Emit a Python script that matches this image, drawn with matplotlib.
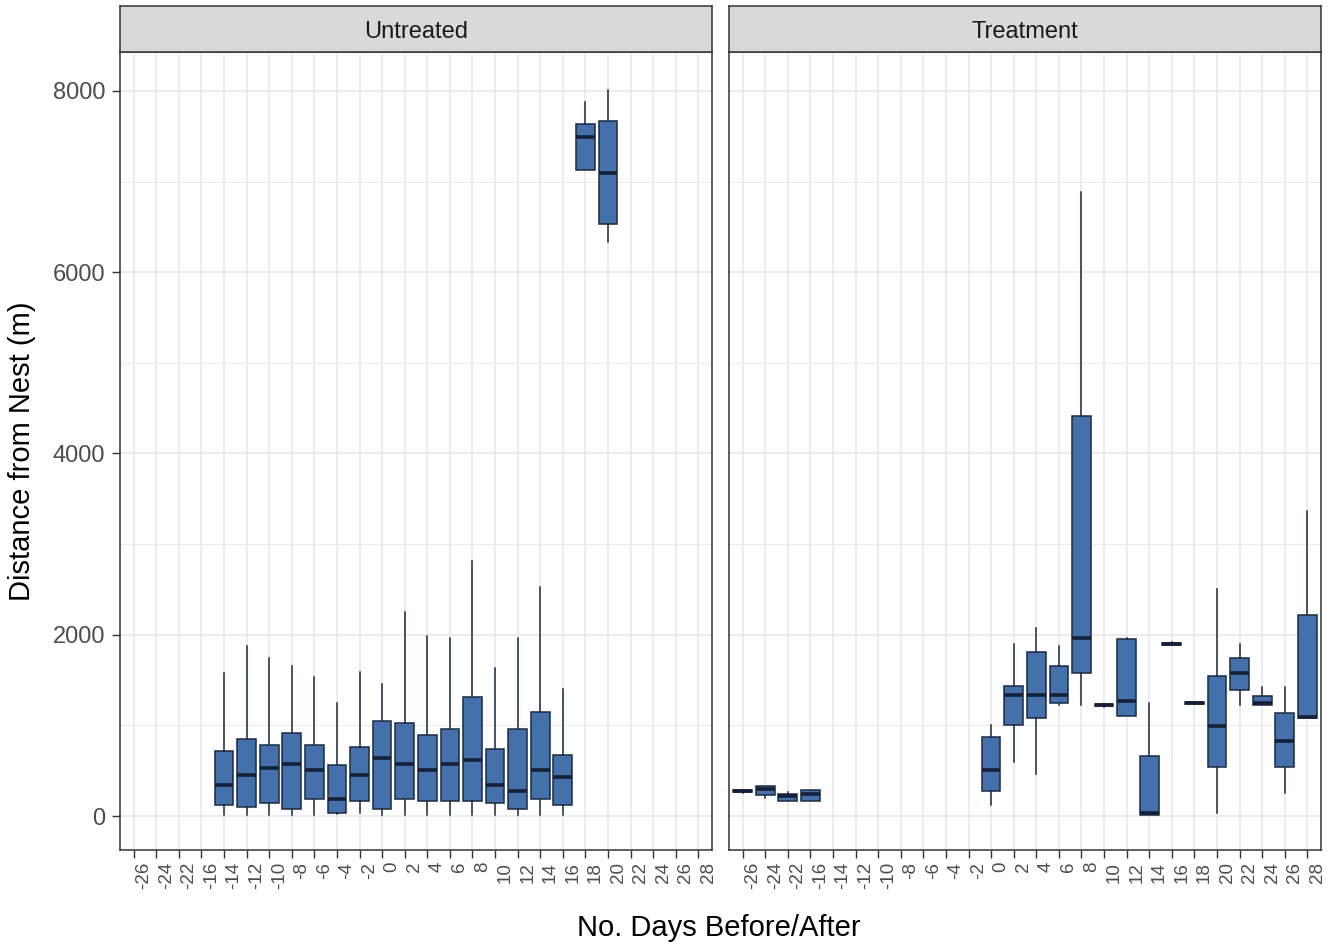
import matplotlib
matplotlib.use("Agg")
import matplotlib.pyplot as plt
import matplotlib.transforms as mtransforms

plt.rcParams['font.family'] = ['Liberation Sans', 'DejaVu Sans']

# ---- data ----
categories = [-26, -24, -22, -16, -14, -12, -10, -8, -6, -4, -2, 0, 2, 4, 6, 8,
              10, 12, 14, 16, 18, 20, 22, 24, 26, 28]
panels = ["Untreated", "Treatment"]

u_days = [-14, -12, -10, -8, -6, -4, -2, 0, 2, 4, 6, 8, 10, 12, 14, 16, 18, 20]
u_lo = [7, 7, 7, 7, 7, 18, 33, 7, 7, 7, 7, 7, 7, 7, 7, 7, 7126, 6330]
u_q1 = [118, 99, 143, 81, 191, 37, 165, 81, 191, 165, 165, 165, 143, 81, 191, 118, 7126, 6533]
u_med = [338, 449, 529, 577, 511, 184, 449, 640, 577, 511, 577, 621, 338, 276, 511, 426, 7489, 7093]
u_q3 = [717, 846, 783, 915, 783, 566, 761, 1044, 1022, 890, 956, 1309, 739, 956, 1151, 673, 7637, 7674]
u_hi = [1577, 1871, 1746, 1658, 1529, 1246, 1592, 1460, 2246, 1985, 1963, 2812, 1636, 1963, 2526, 1397, 7878, 8007]

t_days = [-26, -24, -22, -16, 0, 2, 4, 6, 8, 10, 12, 14, 16, 18, 20, 22, 24, 26, 28]
t_lo = [258, 202, 165, 165, 117, 594, 466, 1229, 1226, 1205, 1101, 11, 1885, 1238, 33, 1229, 1229, 253, 1083]
t_q1 = [262, 228, 165, 165, 275, 1009, 1083, 1248, 1578, 1210, 1101, 11, 1888, 1240, 539, 1391, 1229, 536, 1083]
t_med = [272, 301, 217, 242, 510, 1332, 1332, 1332, 1963, 1222, 1266, 37, 1900, 1248, 991, 1574, 1248, 833, 1097]
t_q3 = [282, 327, 242, 283, 870, 1435, 1806, 1651, 4418, 1235, 1955, 657, 1912, 1256, 1541, 1739, 1328, 1134, 2217]
t_hi = [285, 330, 262, 283, 1006, 1897, 2070, 1872, 6882, 1240, 1960, 1244, 1915, 1258, 2503, 1897, 1420, 1420, 3365]

y_major = [0, 2000, 4000, 6000, 8000]
y_minor = [1000, 3000, 5000, 7000]

# ---- styling ----
W, H = 1341, 944
fig = plt.figure(figsize=(W / 100, H / 100), dpi=100)
fig.patch.set_facecolor('white')

FILL = '#4470AC'
EDGE = '#1B2A42'
MED = '#142038'
GRID = '#EBEBEB'
BORDER = '#333333'

panel_lefts = [120, 729]
panel_w = 592
top, bottom = 52, 850
strip_top = 6

data = [
    (u_days, u_lo, u_q1, u_med, u_q3, u_hi),
    (t_days, t_lo, t_q1, t_med, t_q3, t_hi),
]

for i, (name, left) in enumerate(zip(panels, panel_lefts)):
    ax = fig.add_axes([left / W, 1 - bottom / H, panel_w / W, (bottom - top) / H])
    days, lo, q1, med, q3, hi = data[i]
    stats = []
    for d, a, b, c, e, f in zip(days, lo, q1, med, q3, hi):
        stats.append(dict(whislo=a, q1=b, med=c, q3=e, whishi=f, fliers=[]))
    pos = [categories.index(d) for d in days]
    ax.bxp(stats, positions=pos, widths=0.83, showcaps=False, showfliers=False,
           patch_artist=True, manage_ticks=False,
           boxprops=dict(facecolor=FILL, edgecolor=EDGE, linewidth=1.1),
           whiskerprops=dict(color=EDGE, linewidth=1.1),
           medianprops=dict(color=MED, linewidth=2.6, solid_capstyle='butt'),
           zorder=3)

    ax.set_xlim(-0.6, len(categories) - 0.4)
    ax.set_ylim(-375, 8430)
    ax.set_xticks(range(len(categories)))
    ax.set_xticklabels([str(c) for c in categories], rotation=90, ha='center', va='top',
                       fontsize=13.5, color='#4D4D4D')
    ax.set_yticks(y_major)
    ax.set_yticks(y_minor, minor=True)
    ax.grid(which='major', axis='both', color=GRID, linewidth=1.3, zorder=0)
    ax.grid(which='minor', axis='y', color=GRID, linewidth=0.7, zorder=0)
    ax.set_axisbelow(True)
    ax.tick_params(axis='x', which='major', length=5.5, width=1.0, color=BORDER, pad=3)
    ax.tick_params(axis='y', which='minor', length=0)
    if i == 0:
        ax.set_yticklabels([str(v) for v in y_major], fontsize=17, color='#4D4D4D')
        ax.tick_params(axis='y', which='major', length=5.5, width=1.0, color=BORDER, pad=5)
    else:
        ax.tick_params(axis='y', which='major', length=0, labelleft=False)
    for s in ax.spines.values():
        s.set_color(BORDER)
        s.set_linewidth(1.1)

    offset = mtransforms.ScaledTranslation(10 / 100, 0, fig.dpi_scale_trans)
    for lab in ax.get_xticklabels():
        lab.set_transform(lab.get_transform() + offset)

    # strip
    sax = fig.add_axes([left / W, 1 - top / H, panel_w / W, (top - strip_top) / H])
    sax.set_facecolor('#D9D9D9')
    sax.set_xticks([])
    sax.set_yticks([])
    for s in sax.spines.values():
        s.set_color(BORDER)
        s.set_linewidth(1.1)
    sax.text(0.5, 0.5, name, ha='center', va='center_baseline', fontsize=17,
             color='#1A1A1A', transform=sax.transAxes)

fig.text(719 / W, 1 - 928 / H, 'No. Days Before/After', ha='center', va='center',
         fontsize=21, color='black')
fig.text(22 / W, 1 - 451 / H, 'Distance from Nest (m)', ha='center', va='center',
         rotation=90, fontsize=21, color='black')

fig.savefig('out.png', dpi=100, facecolor='white')
